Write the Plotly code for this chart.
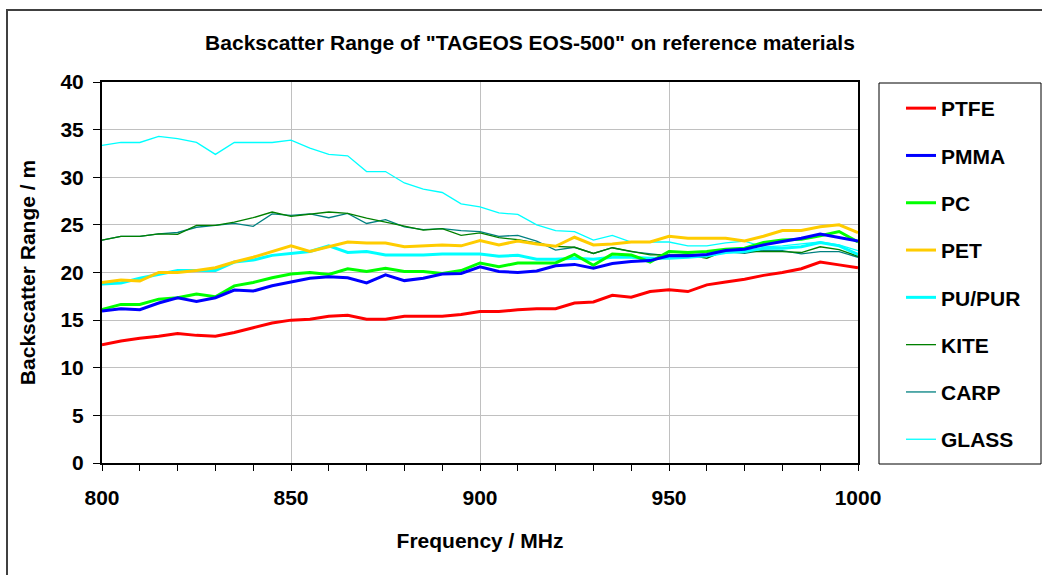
import plotly.graph_objects as go

freq = list(range(800, 1001, 5))

ptfe = [12.4, 12.8, 13.1, 13.3, 13.6, 13.4, 13.3, 13.7, 14.2, 14.7, 15.0, 15.1, 15.4, 15.5, 15.1, 15.1,
        15.4, 15.4, 15.4, 15.6, 15.9, 15.9, 16.1, 16.2, 16.2, 16.8, 16.9, 17.6, 17.4, 18.0, 18.2, 18.0,
        18.7, 19.0, 19.3, 19.7, 20.0, 20.4, 21.1, 20.8, 20.5]
pmma = [15.95, 16.2, 16.1, 16.8, 17.35, 16.95, 17.35, 18.15, 18.05, 18.6, 19.0, 19.4, 19.55, 19.45,
        18.9, 19.75, 19.15, 19.4, 19.85, 19.9, 20.6, 20.1, 20.0, 20.15, 20.7, 20.85, 20.45, 20.95,
        21.15, 21.25, 21.75, 21.75, 21.9, 22.3, 22.45, 22.9, 23.25, 23.6, 24.05, 23.7, 23.3]
pc = [16.1, 16.65, 16.65, 17.2, 17.35, 17.75, 17.45, 18.6, 18.95, 19.45, 19.85, 20.0, 19.8, 20.4,
      20.1, 20.45, 20.1, 20.1, 19.9, 20.2, 21.0, 20.6, 21.0, 21.0, 21.0, 21.9, 20.75, 21.95, 21.85,
      21.1, 22.2, 22.1, 22.2, 22.45, 22.55, 23.15, 23.4, 23.5, 23.85, 24.3, 23.2]
pet = [18.95, 19.2, 19.1, 20.0, 20.0, 20.2, 20.5, 21.1, 21.6, 22.2, 22.8, 22.2, 22.7, 23.2, 23.1,
       23.1, 22.7, 22.8, 22.9, 22.8, 23.35, 22.9, 23.3, 23.0, 22.75, 23.7, 22.9, 23.0, 23.2, 23.2,
       23.8, 23.6, 23.6, 23.6, 23.3, 23.8, 24.4, 24.4, 24.8, 25.0, 24.2]
pu_pur = [18.8, 18.9, 19.4, 19.8, 20.2, 20.2, 20.2, 21.1, 21.3, 21.8, 22.0, 22.2, 22.8, 22.1, 22.2,
          21.85, 21.85, 21.85, 21.95, 21.95, 21.95, 21.7, 21.8, 21.4, 21.4, 21.5, 21.4, 21.6, 21.6,
          21.5, 21.5, 21.6, 21.75, 22.1, 22.2, 22.55, 22.55, 22.7, 23.15, 22.8, 21.9]
kite = [23.4, 23.8, 23.8, 24.05, 24.0, 24.95, 24.95, 25.3, 25.75, 26.35, 25.9, 26.1, 26.35, 26.2,
        25.7, 25.3, 24.85, 24.45, 24.6, 23.9, 24.15, 23.65, 23.45, 23.1, 22.75, 22.65, 22.0, 22.6,
        22.2, 21.85, 21.85, 21.85, 21.5, 22.3, 22.2, 22.2, 22.2, 22.1, 22.7, 22.4, 21.7]
carp = [23.4, 23.8, 23.8, 24.05, 24.2, 24.75, 24.95, 25.15, 24.85, 26.15, 26.0, 26.15, 25.75, 26.2,
        25.15, 25.55, 24.8, 24.5, 24.6, 24.4, 24.3, 23.8, 23.9, 23.3, 22.35, 22.65, 22.0, 22.6, 22.2,
        21.95, 21.75, 21.95, 21.75, 22.2, 22.0, 22.35, 22.3, 21.95, 22.2, 22.2, 21.6]
glass = [33.35, 33.65, 33.65, 34.3, 34.05, 33.65, 32.4, 33.65, 33.65, 33.65, 33.9, 33.05, 32.4, 32.25,
         30.6, 30.6, 29.4, 28.75, 28.4, 27.2, 26.9, 26.25, 26.1, 25.0, 24.4, 24.3, 23.4, 23.9, 23.2,
         23.2, 23.2, 22.8, 22.8, 23.1, 23.3, 22.7, 22.8, 23.0, 23.2, 22.9, 22.3]

names = ["PTFE", "PMMA", "PC", "PET", "PU/PUR", "KITE", "CARP", "GLASS"]
series = [ptfe, pmma, pc, pet, pu_pur, kite, carp, glass]
colors = ["#FF0000", "#0000FF", "#00FF00", "#FFCC00", "#00FFFF", "#008000", "#008080", "#00FFFF"]
widths = [3, 3, 3, 3, 3, 1.3, 1.3, 1.3]

FONT = "Liberation Sans, Arial, sans-serif"

fig = go.Figure()
order = [7, 6, 5, 4, 3, 2, 1, 0]
for i in order:
    fig.add_trace(go.Scatter(
        x=freq, y=series[i], mode="lines", name=names[i],
        line=dict(color=colors[i], width=widths[i]),
        legendgroup=names[i], legendrank=i + 1,
    ))

L, T, W, H = 102, 82, 756, 381

fig.update_layout(
    width=1042, height=575,
    margin=dict(l=L, r=1042 - L - W, t=T, b=575 - T - H),
    paper_bgcolor="white", plot_bgcolor="white",
    font=dict(family=FONT, size=20, color="black"),
    title=dict(text="<b>Backscatter Range of \"TAGEOS EOS-500\" on reference materials</b>",
               x=530 / 1042, xanchor="center", y=1 - 43 / 575, yanchor="middle",
               font=dict(family=FONT, size=21, color="black")),
    xaxis=dict(range=[800, 1000], dtick=50, tick0=800, showgrid=True, gridcolor="#C0C0C0",
               gridwidth=1, showline=True, linecolor="black", linewidth=2, mirror=True,
               ticks="outside", ticklen=6, tickcolor="black", ticklabelstandoff=9,
               minor=dict(dtick=10, ticks="outside", ticklen=6, tickcolor="black", showgrid=False),
               tickfont=dict(family=FONT, size=21, color="black", weight="bold"),
               title=dict(text="<b>Frequency / MHz</b>", font=dict(family=FONT, size=21), standoff=25),
               zeroline=False, fixedrange=True),
    yaxis=dict(range=[0, 40], dtick=5, showgrid=True, gridcolor="#C0C0C0", gridwidth=1,
               showline=True, linecolor="black", linewidth=2, mirror=True,
               ticks="outside", ticklen=7, tickcolor="black", ticklabelstandoff=5,
               tickfont=dict(family=FONT, size=21, color="black", weight="bold"),
               title=dict(text="<b>Backscatter Range / m</b>", font=dict(family=FONT, size=21), standoff=19),
               zeroline=False, fixedrange=True),
    legend=dict(x=(901 - L) / W, xanchor="left", y=1 - 6 / H, yanchor="top",
                bgcolor="rgba(0,0,0,0)", borderwidth=0, traceorder="grouped",
                tracegroupgap=17, font=dict(family=FONT, size=21, color="black", weight="bold"),
                itemwidth=30),
    shapes=[
        dict(type="rect", xref="paper", yref="paper",
             x0=(879 - L) / W, x1=(1041 - L) / W, y0=-(464 - T - H) / H, y1=1 - (83 - T) / H,
             line=dict(color="black", width=1), fillcolor="rgba(0,0,0,0)", layer="below"),
        dict(type="rect", xref="paper", yref="paper",
             x0=(7 - L) / W, x1=(1060 - L) / W, y0=-(600 - T - H) / H, y1=1 + (T - 10) / H,
             line=dict(color="#404040", width=2), fillcolor="rgba(0,0,0,0)", layer="below"),
    ],
    showlegend=True,
)

fig.write_html("out.html")
